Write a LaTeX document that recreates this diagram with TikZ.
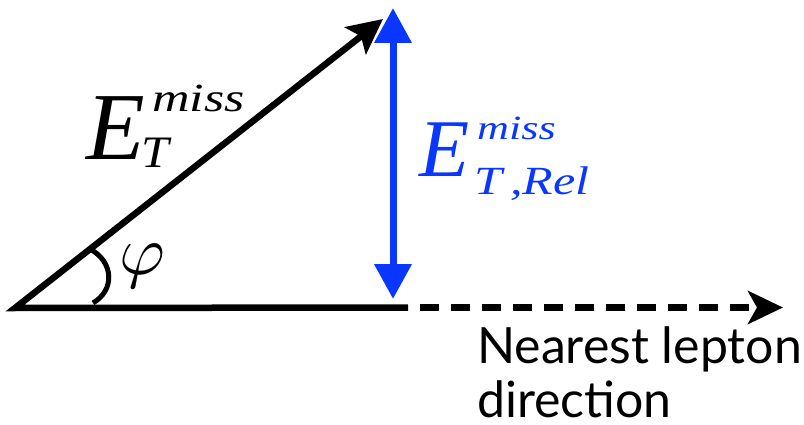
\documentclass[tikz,border=0pt]{standalone}
\usepackage{fontspec}
\usepackage{graphicx}
\setmainfont{Lato}
\newfontfamily\tms{Liberation Serif}
\usetikzlibrary{arrows.meta}
\definecolor{relblue}{RGB}{10,55,255}
\begin{document}
\begin{tikzpicture}[x=1pt,y=-1pt,
  lbl/.style={inner sep=0pt, anchor=base west},
  vec/.style={line width=6.5pt},
  txt/.style={inner sep=0pt, anchor=base west, font=\fontsize{50}{55}\selectfont}]
\useasboundingbox (0,0) rectangle (804,425);
% points
\coordinate (O) at (15,308);
\coordinate (A) at (383,19);
\coordinate (B) at (408,307.5);
\coordinate (C) at (783,307.5);
\coordinate (U) at (393,8);
\coordinate (D) at (393,299);
\coordinate (a1) at (90,249);
\coordinate (a2) at (93,303);
% solid triangle sides
\draw[vec, line join=miter, -{Stealth[length=35pt,width=34pt,inset=7pt]}] (B) -- (O) -- (A);
% dashed continuation
\draw[line width=7pt, dash pattern=on 19pt off 12pt, dash phase=19pt,
  -{Stealth[length=35pt,width=33pt,inset=9pt]}] (B) -- (C);
% blue relative component
\draw[relblue, line width=7pt, {Triangle[length=35pt,width=36pt]}-{Triangle[length=35pt,width=36pt]}] (U) -- (D);
% angle arc
\draw[line width=5pt] (a1) .. controls (114,262) and (115,290) .. (a2);
\node (phi) at (142,266) {\scalebox{7}{$\varphi$}};
% E_T^miss label
\node[lbl] (E1) at (86,160) {\fontsize{96}{96}\selectfont\tms\itshape E};
\node[lbl] (m1) at (152,112) {\scalebox{1.3}[1]{\fontsize{40}{40}\selectfont\tms\itshape miss}};
\node[lbl] (T1) at (141,168) {\scalebox{1.1}[1]{\fontsize{45}{45}\selectfont\tms\itshape T}};
% E_T,Rel^miss label
\node[lbl, text=relblue] (E2) at (419,177) {\fontsize{82}{82}\selectfont\tms\itshape E};
\node[lbl, text=relblue] (m2) at (477,140) {\scalebox{1.3}[1]{\fontsize{34}{34}\selectfont\tms\itshape miss}};
\node[lbl, text=relblue] (T2) at (474,195) {\scalebox{1.25}[1]{\fontsize{40}{40}\selectfont\tms\itshape T\,,Rel}};
% direction text
\node[txt] (t1) at (477,363) {Nearest lepton};
\node[txt] (t2) at (477,417) {direction};
\end{tikzpicture}
\end{document}
